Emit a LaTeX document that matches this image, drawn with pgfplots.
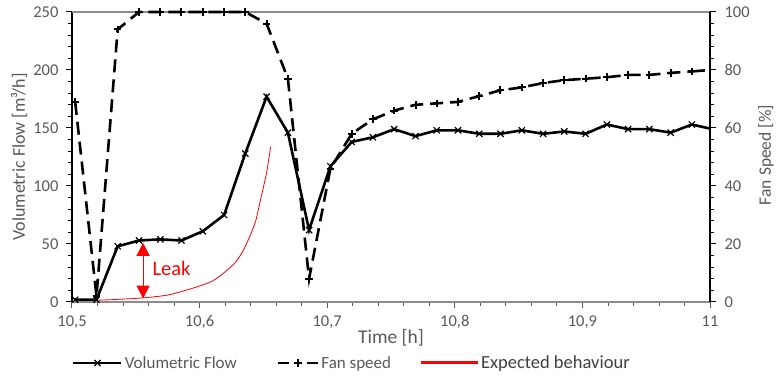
\documentclass[border=0pt]{standalone}
\usepackage{fontspec}
\setmainfont{Carlito}
\usepackage{pgfplots}
\pgfplotsset{compat=1.18}
\usetikzlibrary{arrows.meta}

\definecolor{txt}{HTML}{595959}
\definecolor{framegray}{HTML}{8C8C8C}

\pgfplotsset{
  common/.style={
    scale only axis, width=638pt, height=290pt,
    xmin=10.5, xmax=11, clip=false,
    tick align=outside, major tick length=6pt, minor tick length=4pt,
    every tick/.style={line width=1pt},
    every minor tick/.style={line width=0.8pt},
    tick label style={font=\fontsize{16.5}{18}\selectfont, text=txt},
    /pgf/number format/assume math mode=true,
    /pgf/number format/.cd, fixed, precision=1, use comma,
  },
  flowleg/.style={legend image code/.code={\draw[mark repeat=2,mark phase=2,##1] plot coordinates {(0pt,0pt) (24pt,0pt) (48pt,0pt)};}},
  fanleg/.style={legend image code/.code={
    \draw[black, line width=2.6pt] (0pt,0pt)--(11pt,0pt) (29pt,0pt)--(40pt,0pt);
    \draw[black, line width=2pt] (20pt,-3.8pt)--(20pt,3.8pt) (16.2pt,0pt)--(23.8pt,0pt);}},
  redleg/.style={legend image code/.code={\draw[red, line width=3pt] (0pt,0pt) -- (57pt,0pt);}},
}

\begin{document}
\begin{tikzpicture}
\begin{axis}[common, name=main,
  axis x line*=bottom, axis y line*=left,
  x axis line style={framegray, line width=1.2pt, -},
  y axis line style={black, line width=1.2pt, -},
  xtick={10.5,10.6,10.7,10.8,10.9,11}, minor x tick num=4,
  x tick style={txt},
  xticklabel style={yshift=-4pt},
  ytick={0,50,100,150,200,250}, minor y tick num=4,
  y tick style={black},
  yticklabel style={xshift=-4pt},
  ymin=0, ymax=250,
  xlabel={Time [h]}, ylabel={Volumetric Flow [m³/h]},
  every axis x label/.style={at={(axis description cs:0.5,-0.124)}, anchor=center, font=\fontsize{19.5}{21}\selectfont, text=txt},
  every axis y label/.style={at={(axis description cs:-0.083,0.5)}, rotate=90, anchor=center, font=\fontsize{18}{20}\selectfont, text=txt},
  legend style={at={(axis description cs:0.0,-0.2103)}, anchor=west, draw=none, fill=none,
    legend columns=3, font=\fontsize{17}{19}\selectfont, text=txt, inner sep=0pt,
    /tikz/column 2/.style={column sep=38pt},
    /tikz/column 4/.style={column sep=26pt}},
  legend cell align=left,
]
\addplot[flowleg, black, line width=2.6pt, mark=x, mark size=4.4pt, mark options={line width=1.2pt, solid}] coordinates {
(10.5025,2) (10.5192,2) (10.5358,48) (10.5525,53) (10.5692,54) (10.5858,53)
(10.6025,61) (10.6192,75) (10.6358,128) (10.6525,177) (10.6692,146) (10.6858,62)
(10.7025,117) (10.7192,138) (10.7358,142) (10.7525,149) (10.7692,143) (10.7858,148)
(10.8025,148) (10.8192,145) (10.8358,145) (10.8525,148) (10.8692,145) (10.8858,147)
(10.9025,145) (10.9192,153) (10.9358,149) (10.9525,149) (10.9692,146) (10.9858,153)
};
\addlegendentry{Volumetric Flow}
\addplot[black, line width=2.6pt, forget plot] coordinates {(10.9858,153) (11.0,149.5)};
\addlegendimage{fanleg}
\addlegendentry{Fan speed}
\addplot[redleg, red, line width=0.8pt, smooth, tension=0.4] coordinates {
(10.519,1.5) (10.535,2.2) (10.555,3.5) (10.575,6) (10.595,12) (10.61,18)
(10.62,26) (10.628,34) (10.634,44) (10.6395,57) (10.644,70) (10.6473,86)
(10.650,99) (10.6526,112) (10.6557,134)
};
\addlegendentry{\fontsize{18.5}{20}\selectfont\color[HTML]{404040}Expected behaviour}
\draw[red, line width=1pt, {Triangle[width=13pt,length=13pt]}-{Triangle[width=13pt,length=13pt]}]
  (axis cs:10.5557,51) -- (axis cs:10.5557,3);
\node[red, font=\fontsize{20.5}{22}\selectfont] at (axis cs:10.578,29.3) {Leak};
\end{axis}
\begin{axis}[common,
  axis x line*=top, axis y line*=right,
  x axis line style={framegray, line width=1.2pt, -},
  y axis line style={black, line width=1.2pt, -},
  xtick=\empty,
  ymin=0, ymax=100, ytick={0,20,40,60,80,100}, minor y tick num=4,
  y tick style={black},
  yticklabel style={xshift=5pt},
  ylabel={Fan Speed [\%]},
  every axis y label/.style={at={(axis description cs:1.0878,0.507)}, rotate=90, anchor=center, font=\fontsize{17.5}{19}\selectfont, text=txt},
]
\addplot[black, line width=2.6pt, dash pattern=on 13pt off 7pt, mark=+, mark size=3.8pt, mark options={line width=2pt, solid}] coordinates {
(10.5025,69) (10.5192,2) (10.5358,94) (10.5525,100) (10.5692,100) (10.5858,100)
(10.6025,100) (10.6192,100) (10.6358,100) (10.6525,96) (10.6692,77) (10.6858,8)
(10.7025,46) (10.7192,58) (10.7358,63) (10.7525,66) (10.7692,68) (10.7858,68.5)
(10.8025,69) (10.8192,71) (10.8358,73) (10.8525,74) (10.8692,75.5) (10.8858,76.5)
(10.9025,77) (10.9192,77.5) (10.9358,78.3) (10.9525,78.3) (10.9692,79) (10.9858,79.5)
};
\addplot[black, line width=2.6pt, dash pattern=on 13pt off 7pt] coordinates {(10.9858,79.5) (11.0,80)};
\end{axis}
\pgfresetboundingbox
\path ([shift={(-72pt,-74pt)}]main.south west) rectangle ([shift={(71pt,12pt)}]main.north east);
\end{tikzpicture}
\end{document}
